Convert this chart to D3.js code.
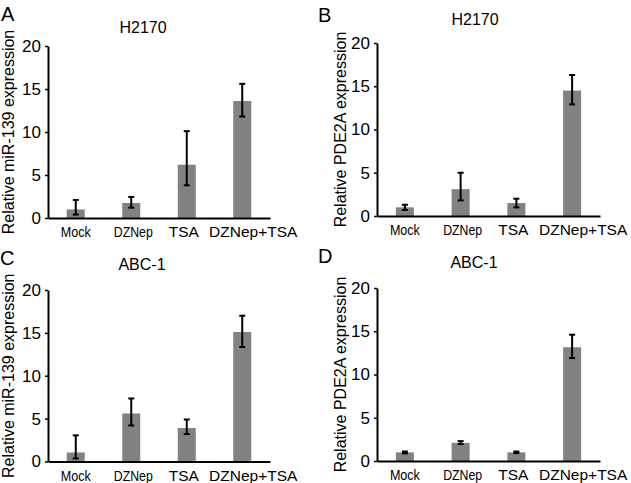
<!DOCTYPE html>
<html>
<head>
<meta charset="utf-8">
<script src="https://cdn.jsdelivr.net/npm/d3@7"></script>
<style>
  html, body { margin: 0; padding: 0; background: #fff; }
  svg { display: block; }
  text { font-family: Arial, "Liberation Sans", Helvetica, sans-serif; fill: #000; }
</style>
</head>
<body>
<svg id="chart" width="631" height="483"></svg>
<script>
// ---- data ----
const categories = ["Mock", "DZNep", "TSA", "DZNep+TSA"];
const yTicks = [0, 5, 10, 15, 20];
const panelLetters = ["A", "B", "C", "D"];
const panelTitles = ["H2170", "H2170", "ABC-1", "ABC-1"];
const yAxisLabels = [
  "Relative miR-139 expression",
  "Relative PDE2A expression",
  "Relative miR-139 expression",
  "Relative PDE2A expression"
];

const meanA = [1.0, 1.75, 6.2, 13.6];
const lowA  = [0.4, 1.2, 3.8, 11.8];
const highA = [2.1, 2.45, 10.1, 15.6];

const meanB = [1.0, 3.1, 1.5, 14.5];
const lowB  = [0.7, 1.8, 1.0, 12.9];
const highB = [1.3, 5.0, 2.0, 16.3];

const meanC = [1.05, 5.6, 3.9, 15.1];
const lowC  = [0.35, 4.2, 3.2, 13.35];
const highC = [3.05, 7.35, 4.9, 17.0];

const meanD = [1.0, 2.1, 1.0, 13.15];
const lowD  = [0.88, 1.95, 0.92, 11.9];
const highD = [1.1, 2.3, 1.1, 14.6];

// ---- layout (style/positions) ----
const panels = [
  { mean: meanA, low: lowA, high: highA, left: 48,  right: 270, top: 46,  bottom: 218, titleX: 143, titleY: 33,  letterX: 1,   letterY: 21,  ylabX: 14 },
  { mean: meanB, low: lowB, high: highB, left: 377, right: 600, top: 43,  bottom: 216, titleX: 475, titleY: 25,  letterX: 318, letterY: 22,  ylabX: 346 },
  { mean: meanC, low: lowC, high: highC, left: 48,  right: 270, top: 290, bottom: 461.5, titleX: 142, titleY: 270, letterX: 0, letterY: 265, ylabX: 14 },
  { mean: meanD, low: lowD, high: highD, left: 377, right: 600, top: 288, bottom: 461, titleX: 474, titleY: 268, letterX: 318, letterY: 263, ylabX: 346 }
];
const labelNudge = [0, 2, -3, 11];
const labelWidths = [30, 39, null, null];
const barColor = "#828282";
const barWidth = 18;

const svg = d3.select("#chart");

panels.forEach((p, i) => {
  const g = svg.append("g");
  const x = d3.scaleBand().domain(categories).range([p.left, p.right]).paddingInner(0).paddingOuter(0);
  const y = d3.scaleLinear().domain([0, 20]).range([p.bottom, p.top]);
  const cx = d => x(d) + x.bandwidth() / 2;

  // bars
  g.selectAll("rect.bar").data(categories).enter().append("rect")
    .attr("x", d => cx(d) - barWidth / 2)
    .attr("width", barWidth)
    .attr("y", (d, k) => y(p.mean[k]))
    .attr("height", (d, k) => y(0) - y(p.mean[k]))
    .attr("fill", barColor);

  // error bars
  const eb = g.selectAll("g.err").data(categories).enter().append("g")
    .attr("stroke", "#000").attr("stroke-width", 2);
  eb.append("line")
    .attr("x1", cx).attr("x2", cx)
    .attr("y1", (d, k) => y(p.low[k])).attr("y2", (d, k) => y(p.high[k]));
  eb.append("line")
    .attr("x1", d => cx(d) - 3).attr("x2", d => cx(d) + 3)
    .attr("y1", (d, k) => y(p.low[k])).attr("y2", (d, k) => y(p.low[k]));
  eb.append("line")
    .attr("x1", d => cx(d) - 3).attr("x2", d => cx(d) + 3)
    .attr("y1", (d, k) => y(p.high[k])).attr("y2", (d, k) => y(p.high[k]));

  // y axis
  const ya = g.append("g").attr("transform", `translate(${p.left},0)`)
    .call(d3.axisLeft(y).tickValues(yTicks).tickSize(3).tickSizeOuter(0).tickPadding(4));
  ya.select(".domain").attr("stroke", "#000").attr("stroke-width", 2);
  ya.selectAll(".tick line").attr("stroke", "#000").attr("stroke-width", 1.5);
  ya.selectAll(".tick text").attr("font-size", 17).attr("font-family", "Arial, 'Liberation Sans', sans-serif").attr("fill", "#000");

  // x axis
  const xa = g.append("g").attr("transform", `translate(0,${p.bottom})`)
    .call(d3.axisBottom(x).tickSize(0).tickSizeOuter(0).tickPadding(8));
  xa.select(".domain").attr("stroke", "#000").attr("stroke-width", 2);
  xa.selectAll(".tick text")
    .attr("dx", (d, k) => labelNudge[k])
    .attr("font-size", 15.5)
    .attr("font-family", "Arial, 'Liberation Sans', sans-serif")
    .attr("fill", "#000")
    .each(function (d, k) {
      if (labelWidths[k]) {
        d3.select(this).attr("textLength", labelWidths[k]).attr("lengthAdjust", "spacingAndGlyphs");
      }
    });

  // title
  g.append("text").attr("x", p.titleX).attr("y", p.titleY)
    .attr("text-anchor", "middle").attr("font-size", 16).text(panelTitles[i]);

  // panel letter
  g.append("text").attr("x", p.letterX).attr("y", p.letterY)
    .attr("font-size", 20).text(panelLetters[i]);

  // y label
  g.append("text")
    .attr("transform", `translate(${p.ylabX},${(p.top + p.bottom) / 2}) rotate(-90)`)
    .attr("text-anchor", "middle").attr("font-size", 16).text(yAxisLabels[i]);
});
</script>
</body>
</html>
